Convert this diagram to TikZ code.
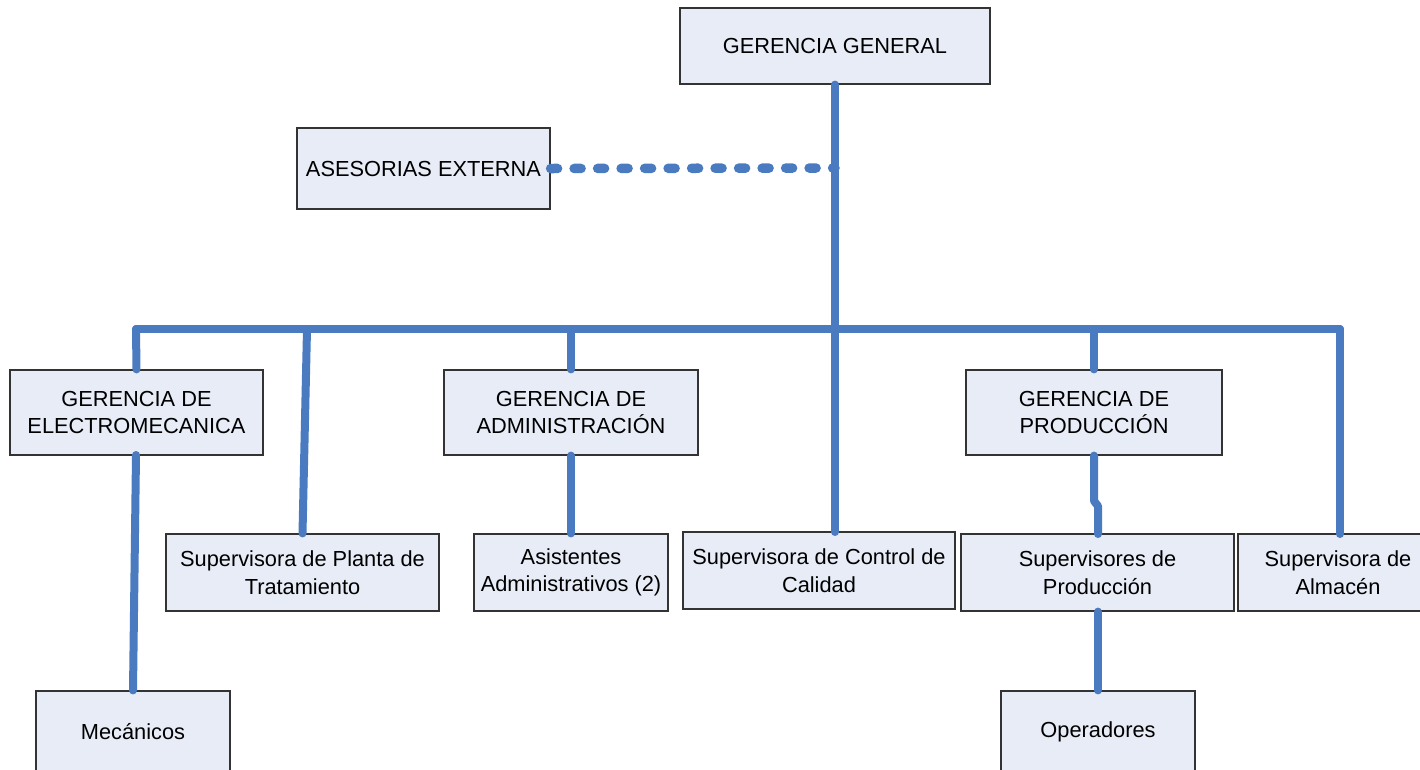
\documentclass[tikz,border=0pt]{standalone}
\usepackage{fontspec}
\setmainfont{Liberation Sans}
\definecolor{linkblue}{HTML}{4A7BC0}
\definecolor{boxfill}{HTML}{E7ECF7}
\definecolor{boxline}{HTML}{333333}
\begin{document}
\begin{tikzpicture}[x=1pt,y=-1pt,
  orgbox/.style={draw=boxline, fill=boxfill, line width=1.2pt, inner sep=0pt, align=center,
    font=\fontsize{21.8}{27.5}\selectfont, rectangle},
  link/.style={draw=linkblue, line width=8pt, line cap=round, line join=round},
  dotlink/.style={link, line width=9.5pt, dash pattern=on 7pt off 16.5pt}]
\useasboundingbox (0,0) rectangle (1420,769);
% boxes
\node[orgbox, minimum width=310, minimum height=76] (gg) at (835,46) {GERENCIA GENERAL};
\node[orgbox, minimum width=253, minimum height=81] (ases) at (423.5,168.5) {ASESORIAS EXTERNA};
\node[orgbox, minimum width=253, minimum height=85] (elec) at (136.5,412.5) {GERENCIA DE\\ELECTROMECANICA};
\node[orgbox, minimum width=254, minimum height=85] (adm) at (571,412.5) {GERENCIA DE\\ADMINISTRACIÓN};
\node[orgbox, minimum width=256, minimum height=85] (prod) at (1094,412.5) {GERENCIA DE\\PRODUCCIÓN};
\node[orgbox, minimum width=273, minimum height=77] (planta) at (302.5,572.5) {Supervisora de Planta de\\Tratamiento};
\node[orgbox, minimum width=194, minimum height=77] (asis) at (571,572.5) {Asistentes\\Administrativos (2)};
\node[orgbox, minimum width=272, minimum height=77] (ccal) at (819,570.5) {Supervisora de Control de\\Calidad};
\node[orgbox, minimum width=273, minimum height=77] (sprod) at (1097.5,572.5) {Supervisores de\\Producción};
\node[orgbox, minimum width=200, minimum height=77] (alm) at (1338,572.5) {Supervisora de\\Almacén};
\node[orgbox, minimum width=194, minimum height=82] (mec) at (133,732) {Mecánicos};
\node[orgbox, minimum width=194, minimum height=82] (oper) at (1098,732) {Operadores};
% junction coordinates
\coordinate (busL) at (136,329);
\coordinate (busR) at (1340,329);
\coordinate (plantaTop) at (307,329);
\coordinate (admTop) at (571,329);
\coordinate (prodTop) at (1094,329);
\coordinate (asesJoin) at (835,168);
\coordinate (jogA) at (1094,501);
\coordinate (jogB) at (1098,506);
% connectors
\draw[link] (gg.south) -- (835,532);
\draw[dotlink] (ases.east) -- (asesJoin);
\draw[link] (busL) -- (busR);
\draw[link] (busL) -- (elec.north);
\draw[link] (plantaTop) -- (planta.north);
\draw[link] (admTop) -- (adm.north);
\draw[link] (prodTop) -- (prod.north);
\draw[link] (busR) -- (1340,534);
\draw[link] (136,455) -- (mec.north);
\draw[link] (adm.south) -- (asis.north);
\draw[link] (prod.south) -- (jogA) -- (jogB) -- (1098,534);
\draw[link] (sprod.south -| oper.north) -- (oper.north);
\end{tikzpicture}
\end{document}
